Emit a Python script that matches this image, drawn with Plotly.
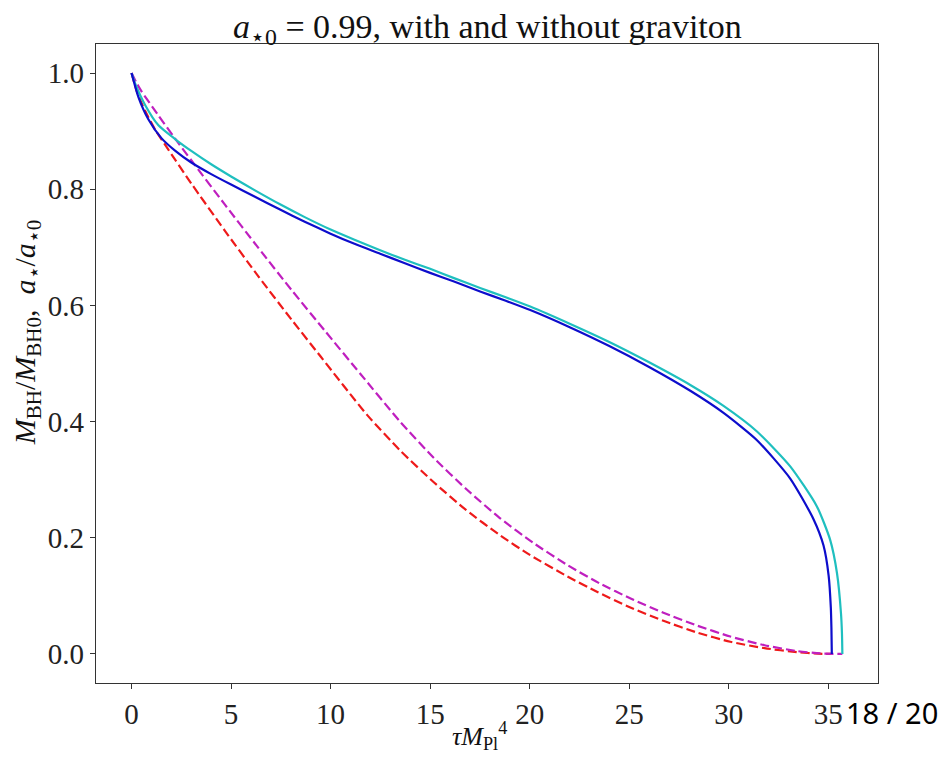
import plotly.graph_objects as go

# Solid: M_BH / M_BH0 ; dashed: a*/a*0
blue_tau = [0, 0.34, 0.85, 1.5, 2.2, 3.0, 4.0, 5.0, 6.2, 7.46, 8.7, 9.97, 11.2, 12.49, 13.7, 15.0, 16.2, 17.51, 18.8, 20.03, 22.04, 24.0, 26.0, 28.07, 29.74, 31.42, 33.09, 34.26, 34.76, 35.02, 35.13, 35.16, 35.18]
blue_val = [1.0, 0.959, 0.920, 0.888, 0.866, 0.846, 0.826, 0.808, 0.787, 0.765, 0.744, 0.724, 0.706, 0.689, 0.673, 0.656, 0.641, 0.624, 0.608, 0.592, 0.562, 0.530, 0.494, 0.453, 0.415, 0.368, 0.302, 0.232, 0.187, 0.135, 0.080, 0.045, 0.0]

cyan_tau = [0, 0.18, 0.68, 1.35, 2.2, 3.0, 4.0, 5.0, 6.2, 7.46, 8.7, 9.97, 11.2, 12.49, 13.7, 15.0, 16.2, 17.51, 18.8, 20.03, 22.04, 24.0, 26.0, 28.07, 29.74, 31.42, 33.09, 34.43, 35.1, 35.44, 35.64, 35.69, 35.71]
cyan_val = [1.0, 0.982, 0.945, 0.910, 0.886, 0.866, 0.843, 0.822, 0.798, 0.774, 0.752, 0.731, 0.713, 0.695, 0.679, 0.663, 0.647, 0.630, 0.614, 0.598, 0.568, 0.537, 0.502, 0.463, 0.427, 0.383, 0.323, 0.254, 0.196, 0.139, 0.070, 0.035, 0.0]

red_tau = [0, 0.3, 0.68, 1.18, 1.85, 3.02, 4.7, 6.37, 8.05, 9.5, 11.82, 13.5, 15.17, 16.8, 18.52, 20.03, 21.87, 23.38, 25.0, 26.72, 28.4, 30.08, 31.8, 33.43, 34.5, 35.17]
red_val = [1.0, 0.965, 0.935, 0.903, 0.868, 0.809, 0.728, 0.650, 0.575, 0.512, 0.412, 0.350, 0.296, 0.248, 0.204, 0.170, 0.134, 0.107, 0.081, 0.057, 0.037, 0.021, 0.010, 0.003, 0.0005, 0.0]

mag_tau = [0, 0.25, 0.51, 1.35, 2.19, 3.02, 4.7, 6.37, 8.05, 9.72, 11.5, 13.49, 15.2, 16.84, 18.5, 20.19, 21.9, 23.54, 25.1, 26.72, 28.4, 30.08, 31.8, 33.43, 34.6, 35.71]
mag_val = [1.0, 0.983, 0.968, 0.927, 0.887, 0.849, 0.773, 0.699, 0.626, 0.556, 0.482, 0.400, 0.337, 0.283, 0.234, 0.191, 0.153, 0.121, 0.095, 0.071, 0.049, 0.030, 0.015, 0.005, 0.001, 0.0]

x_ticks = [0, 5, 10, 15, 20, 25, 30, 35]
y_ticks = [0.0, 0.2, 0.4, 0.6, 0.8, 1.0]
y_tick_labels = ["0.0", "0.2", "0.4", "0.6", "0.8", "1.0"]

SERIF = "Liberation Serif, DejaVu Serif, serif"

fig = go.Figure()
fig.add_trace(go.Scatter(x=red_tau, y=red_val, mode="lines",
                         line=dict(color="#ee1a1a", width=2.2, dash="9px,4px", shape="spline", smoothing=0.6)))
fig.add_trace(go.Scatter(x=mag_tau, y=mag_val, mode="lines",
                         line=dict(color="#bf1fbf", width=2.2, dash="9px,4px", shape="spline", smoothing=0.6)))
fig.add_trace(go.Scatter(x=cyan_tau, y=cyan_val, mode="lines",
                         line=dict(color="#1fbfbf", width=2.2, shape="spline", smoothing=0.6)))
fig.add_trace(go.Scatter(x=blue_tau, y=blue_val, mode="lines",
                         line=dict(color="#0d0dcc", width=2.2, shape="spline", smoothing=0.6)))

axis_common = dict(showgrid=False, zeroline=False, showline=True, mirror=True,
                   linecolor="#333333", linewidth=1.3, ticks="outside", ticklen=5,
                   tickwidth=1.2, tickcolor="#333333",
                   tickfont=dict(family=SERIF, size=29, color="#222222"))

# page body has an 8px margin, so the figure is 8px smaller than the window
fig.update_layout(
    width=943, height=751,
    margin=dict(l=88, r=73, t=36, b=76),
    paper_bgcolor="white", plot_bgcolor="white",
    showlegend=False,
    xaxis=dict(range=[-1.786, 37.5], tickvals=x_ticks, **axis_common),
    yaxis=dict(range=[-0.05, 1.05], tickvals=y_ticks, ticktext=y_tick_labels, **axis_common),
    annotations=[
        dict(text="<i>a</i><sub>⋆0</sub> = 0.99, with and without graviton",
             xref="paper", yref="paper", x=0.5, y=1.023, xanchor="center", yanchor="middle",
             showarrow=False, font=dict(family=SERIF, size=34, color="#111111")),
        dict(text="<i>τM</i><sub>Pl</sub><sup>4</sup>",
             xref="paper", yref="paper", x=0.491, y=-0.052, xanchor="center", yanchor="top",
             showarrow=False, font=dict(family=SERIF, size=26, color="#111111")),
        dict(text="<i>M</i><sub>BH</sub>/<i>M</i><sub>BH0</sub>,  <i>a</i><sub>⋆</sub>/<i>a</i><sub>⋆0</sub>",
             xref="paper", yref="paper", x=0, xshift=-69, y=0.549, xanchor="center", yanchor="middle",
             textangle=-90, showarrow=False, font=dict(family=SERIF, size=30, color="#111111")),
        dict(text="18 / 20", xref="paper", yref="paper", x=0.957, y=-0.0454,
             xanchor="left", yanchor="middle", showarrow=False,
             font=dict(family="Noto Sans, Open Sans, sans-serif", size=29, color="#000000")),
    ],
)

fig.write_html("out.html")
